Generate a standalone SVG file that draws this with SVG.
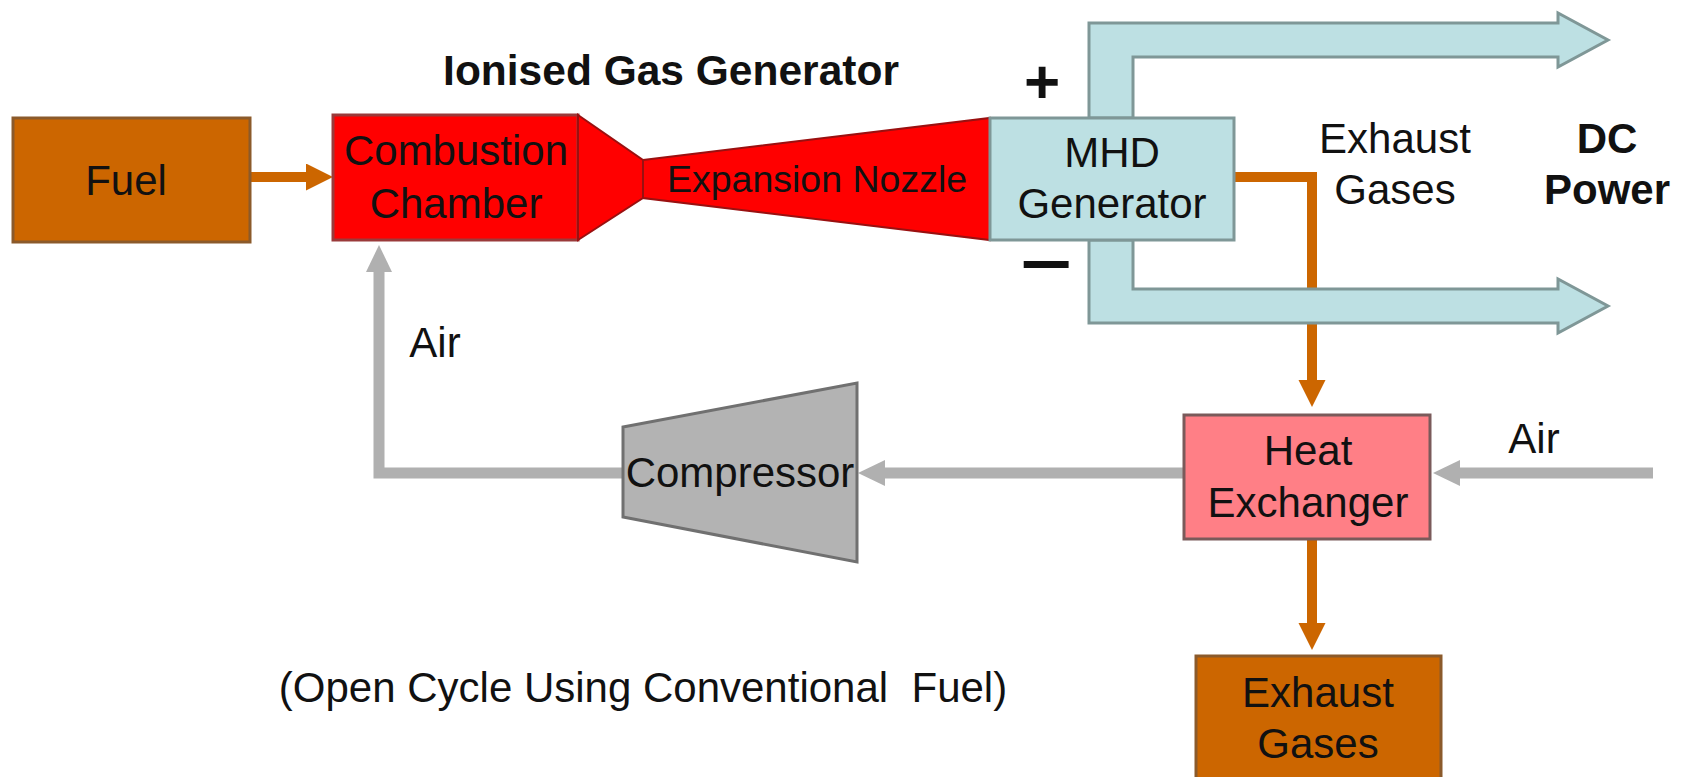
<svg xmlns="http://www.w3.org/2000/svg" width="1700" height="777" viewBox="0 0 1700 777">
<style>
text{font-family:"Liberation Sans",Arial,sans-serif;font-size:42px;fill:#111;text-anchor:middle}
.b{font-weight:bold}
.or{fill:none;stroke:#CC6600;stroke-width:10}
.gr{fill:none;stroke:#B0B0B0;stroke-width:11}
</style>
<defs>
<marker id="ao" markerUnits="userSpaceOnUse" markerWidth="28" markerHeight="28" refX="0" refY="13.5" orient="auto"><path d="M0,0 L27,13.5 L0,27 z" fill="#CC6600"/></marker>
<marker id="ag" markerUnits="userSpaceOnUse" markerWidth="28" markerHeight="28" refX="0" refY="13" orient="auto"><path d="M0,0 L27,13 L0,26 z" fill="#B0B0B0"/></marker>
</defs>
<rect width="1700" height="777" fill="#fff"/>
<g id="connectors">
<path class="or" d="M250,177 H306" marker-end="url(#ao)"/>
<path class="or" d="M1234,177 H1312 V380" marker-end="url(#ao)"/>
<path class="or" d="M1312,539 V623" marker-end="url(#ao)"/>
<path class="gr" d="M1653,473 H1460" marker-end="url(#ag)"/>
<path class="gr" d="M1184,473 H885" marker-end="url(#ag)"/>
<path class="gr" d="M623,473 H379 V272" marker-end="url(#ag)"/>
</g>
<g id="dc-bus">
<path d="M1089,118 V23 H1558 V13 L1608,40 L1558,67 V57 H1133 V118 Z" fill="#BDE0E3" stroke="#7F9797" stroke-width="3"/>
<path d="M1089,240 V323 H1558 V333 L1608,306 L1558,279 V289 H1133 V240 Z" fill="#BDE0E3" stroke="#7F9797" stroke-width="3"/>
</g>
<g id="fuel">
<rect x="13" y="118" width="237" height="124" fill="#CC6600" stroke="#8B5A2B" stroke-width="3"/>
<text x="126" y="195">Fuel</text>
</g>
<g id="combustion-chamber">
<rect x="333" y="115" width="245" height="125" fill="#FF0000" stroke="#9A3A3A" stroke-width="3"/>
<text x="456" y="165">Combustion</text>
<text x="456" y="218">Chamber</text>
</g>
<g id="expansion-nozzle">
<path d="M578,115 L643,160 L643,198 L578,240 Z" fill="#FF0000" stroke="#9A1010" stroke-width="2"/>
<path d="M643,160 L990,118 L990,240 L643,198 Z" fill="#FF0000" stroke="#9A1010" stroke-width="2"/>
<text x="817" y="192" style="font-size:37.5px">Expansion Nozzle</text>
</g>
<g id="mhd-generator">
<rect x="990" y="118" width="244" height="122" fill="#BDE0E3" stroke="#7F9797" stroke-width="3"/>
<text x="1112" y="167">MHD</text>
<text x="1112" y="218">Generator</text>
</g>
<g id="heat-exchanger">
<rect x="1184" y="415" width="246" height="124" fill="#FF7F86" stroke="#7A5A5A" stroke-width="3"/>
<text x="1308" y="465">Heat</text>
<text x="1308" y="517">Exchanger</text>
</g>
<g id="exhaust-gases-box">
<rect x="1196" y="656" width="245" height="130" fill="#CC6600" stroke="#8B5A2B" stroke-width="3"/>
<text x="1318" y="707">Exhaust</text>
<text x="1318" y="758">Gases</text>
</g>
<g id="compressor">
<path d="M623,427 L857,383 L857,562 L623,517 Z" fill="#B3B3B3" stroke="#707070" stroke-width="3"/>
<text x="740" y="487">Compressor</text>
</g>
<g id="labels">
<text class="b" x="671" y="85" style="font-size:42.5px">Ionised Gas Generator</text>
<text class="b" x="1042" y="103" style="font-size:62px">+</text>
<text class="b" transform="translate(1046,286) scale(1.4,1)" x="0" y="0" style="font-size:64px">−</text>
<text x="1395" y="153">Exhaust</text>
<text x="1395" y="204">Gases</text>
<text class="b" x="1607" y="153">DC</text>
<text class="b" x="1607" y="204">Power</text>
<text x="435" y="357">Air</text>
<text x="1534" y="453">Air</text>
<text x="643" y="702" xml:space="preserve">(Open Cycle Using Conventional  Fuel)</text>
</g>
</svg>
